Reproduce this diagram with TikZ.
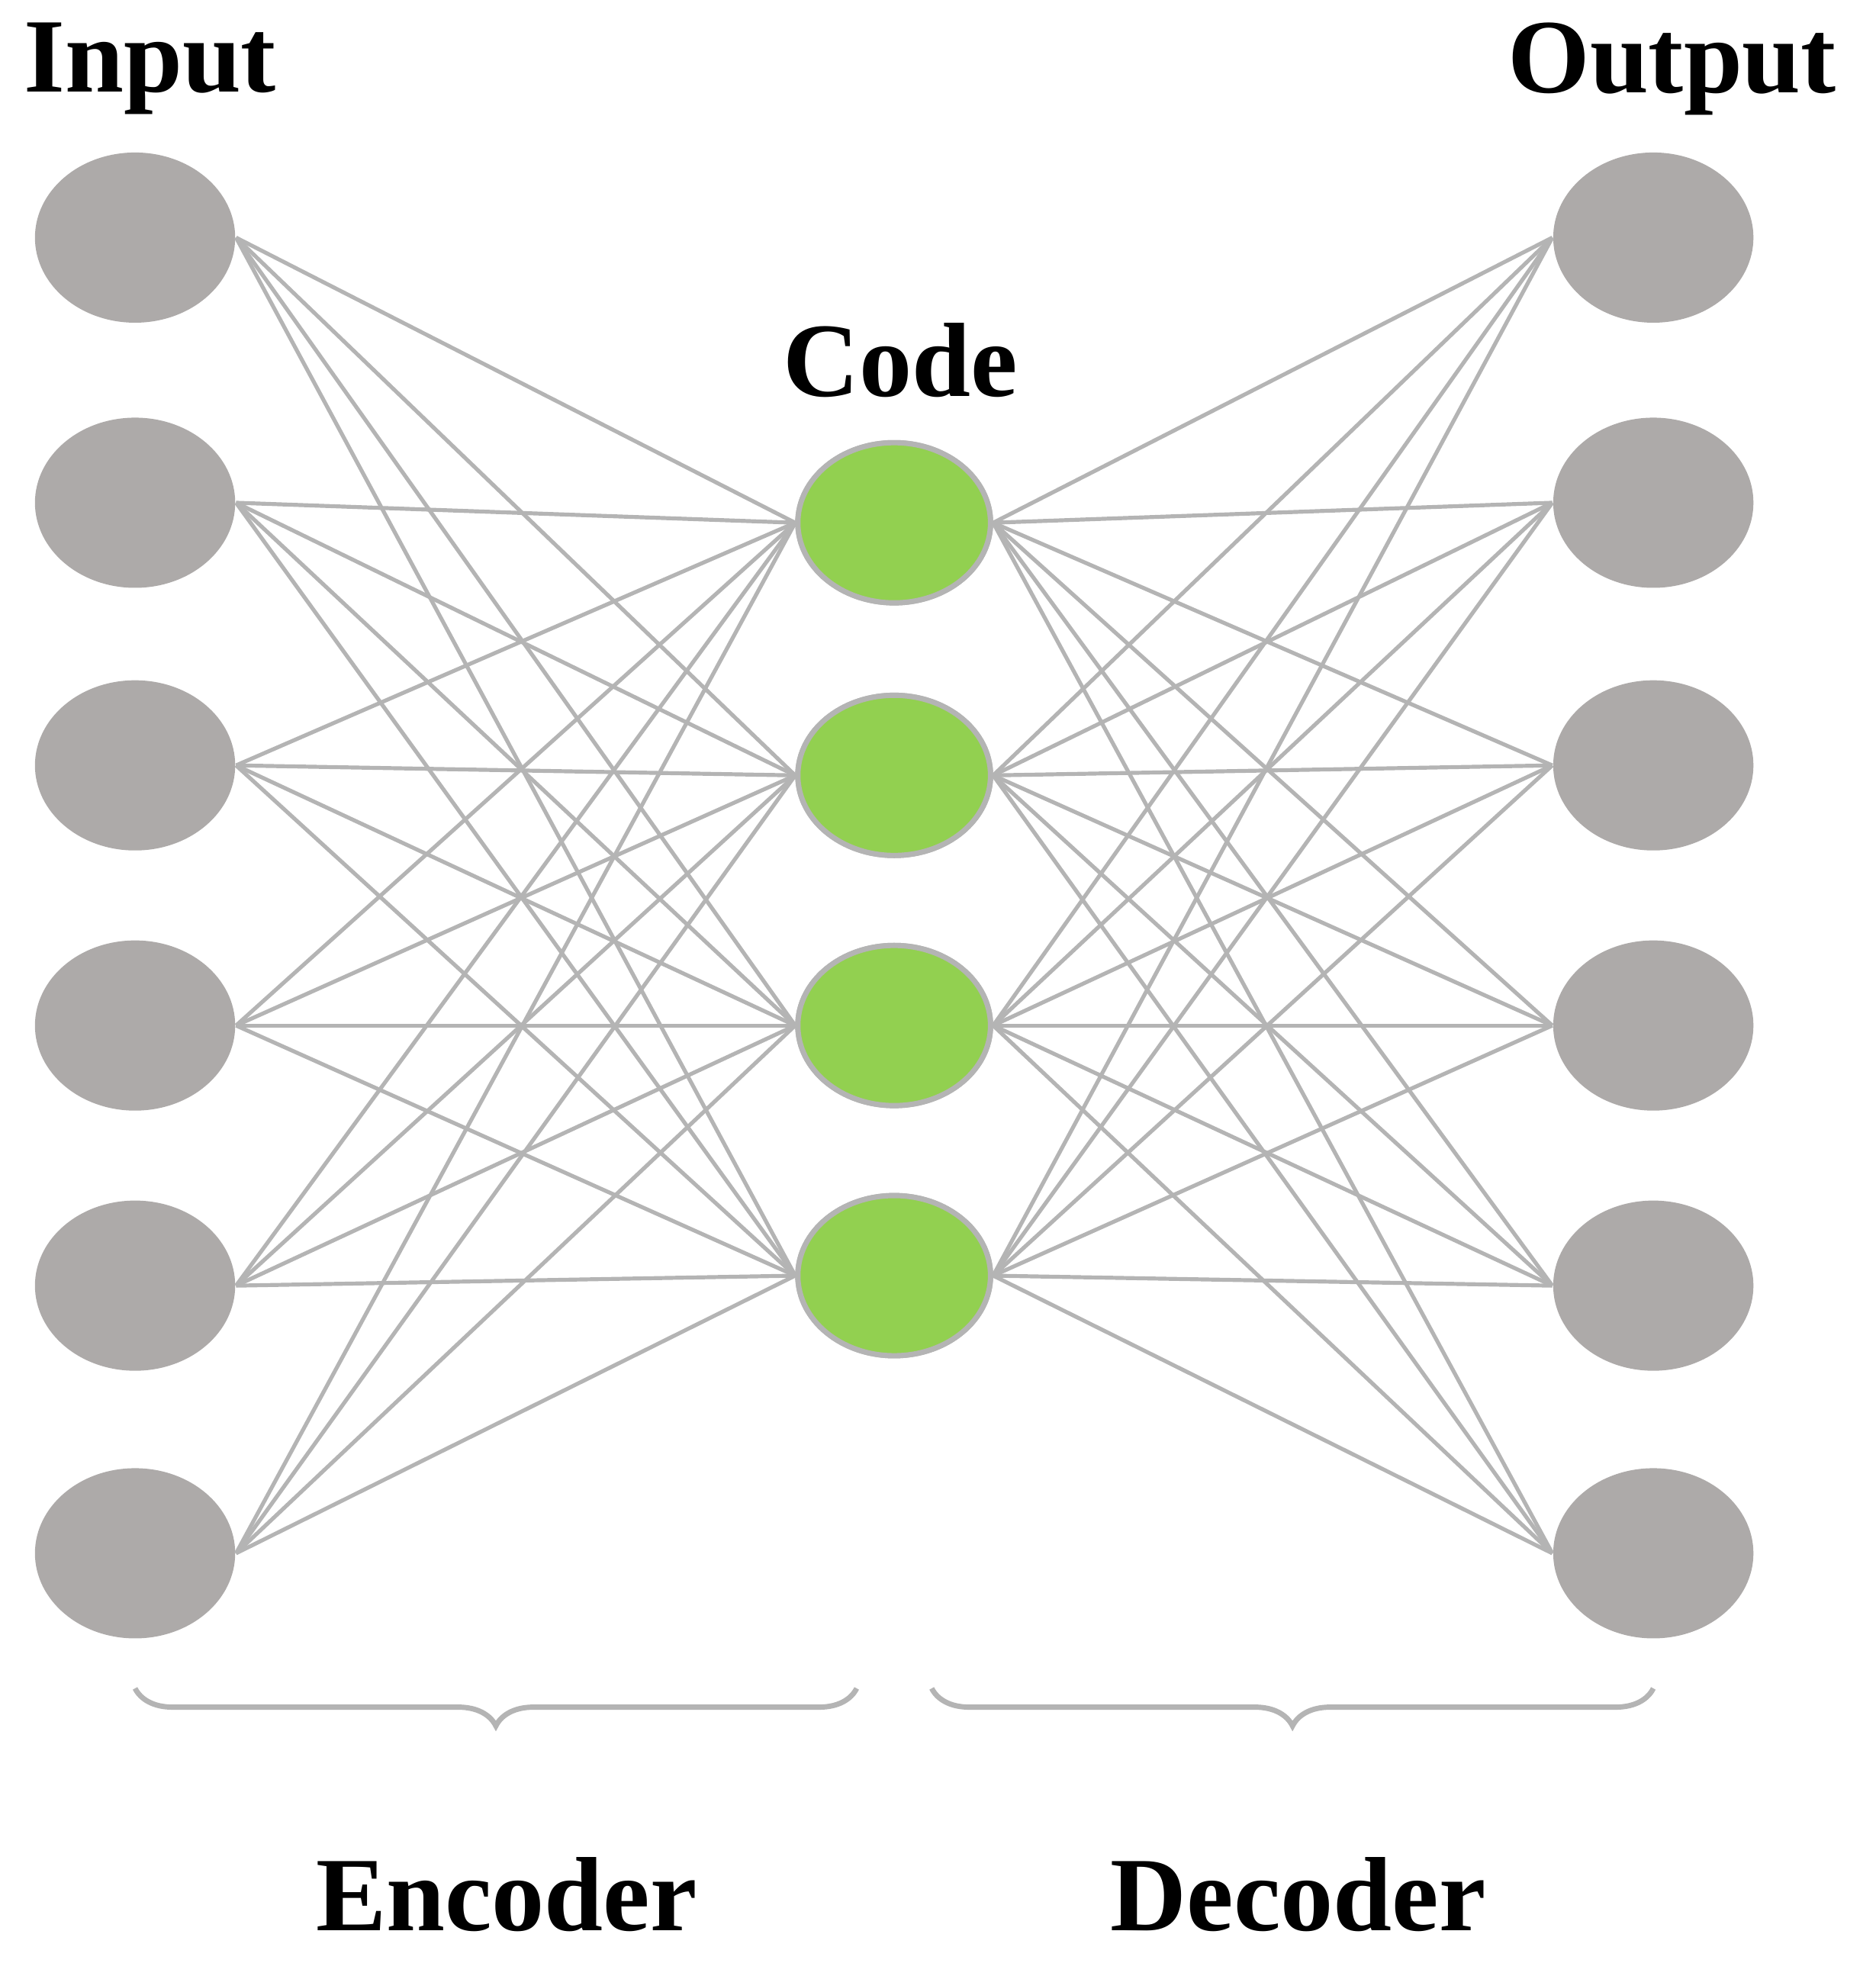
\documentclass[tikz,border=0pt]{standalone}
\usepackage{fontspec}
\setmainfont{Liberation Serif}
\usetikzlibrary{shapes.geometric,decorations.pathreplacing}
\definecolor{ngray}{HTML}{adaaa9}
\definecolor{lgray}{HTML}{b4b4b4}
\definecolor{ngreen}{HTML}{92d050}
\begin{document}
\begin{tikzpicture}[x=0.01cm,y=-0.01cm,
	unit/.style={ellipse, fill=ngray, minimum width=1.6cm, minimum height=1.36cm, inner sep=0},
	code/.style={ellipse, fill=ngreen, draw=lgray, line width=1.2pt, minimum width=1.54cm, minimum height=1.28cm, inner sep=0},
	link/.style={draw=lgray, line width=0.9pt},
	title/.style={font=\fontsize{24}{28}\selectfont\bfseries}]
	\useasboundingbox (0,0) rectangle (1500,1580);
	% layers
	\foreach \i/\y in {1/190,2/402,3/612,4/820,5/1028,6/1242} {
		\node[unit] (in\i) at (108,\y) {};
		\node[unit] (out\i) at (1322,\y) {};
	}
	\foreach \j/\y in {1/418,2/620,3/820,4/1020}
		\node[code] (code\j) at (715,\y) {};
	% connections
	\foreach \i in {1,...,6}
		\foreach \j in {1,...,4} {
			\path[link] (in\i.east) -- (code\j.west);
			\path[link] (code\j.east) -- (out\i.west);
		}
	\foreach \j/\y in {1/418,2/620,3/820,4/1020}
		\node[code] at (715,\y) {};
	% labels
	\node[title] (input) at (120,55) {Input};
	\node[title] (output) at (1337,55) {Output};
	\node[title] (codelbl) at (720,288) {Code};
	\coordinate (encl) at (108,1350);
	\coordinate (encr) at (685,1350);
	\coordinate (decl) at (745,1350);
	\coordinate (decr) at (1322,1350);
	\draw[lgray, line width=1.2pt, decorate, decoration={brace, mirror, amplitude=0.3cm}] (encl) -- (encr);
	\draw[lgray, line width=1.2pt, decorate, decoration={brace, mirror, amplitude=0.3cm}] (decl) -- (decr);
	\node[title] (enc) at (405,1515) {Encoder};
	\node[title] (dec) at (1038,1515) {Decoder};
\end{tikzpicture}
\end{document}
